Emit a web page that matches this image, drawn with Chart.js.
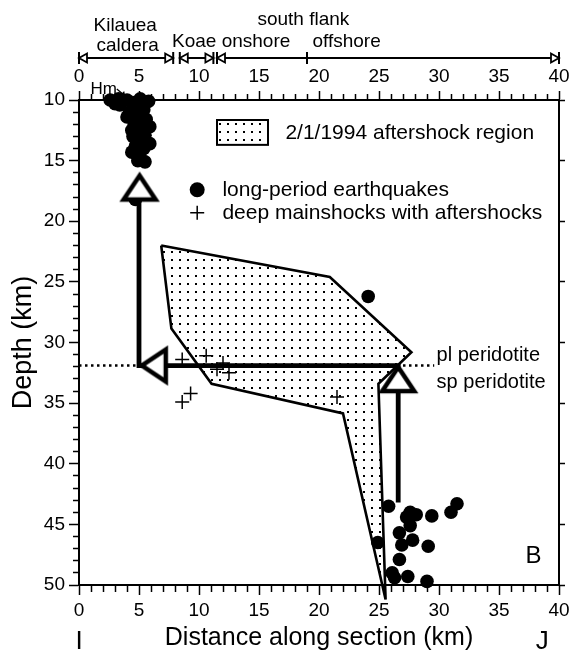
<!DOCTYPE html>
<html>
<head>
<meta charset="utf-8">
<script src="https://cdn.jsdelivr.net/npm/chart.js@4/dist/chart.umd.min.js"></script>
<style>
html,body{margin:0;padding:0;background:#fff;}
#wrap{width:580px;height:652px;}
</style>
</head>
<body>
<div id="wrap"><canvas id="c" width="580" height="652"></canvas></div>
<script>
// ---------------- data ----------------
const xMajorTicks = [0, 5, 10, 15, 20, 25, 30, 35, 40];
const depthMajorTicks = [10, 15, 20, 25, 30, 35, 40, 45, 50];

// long-period earthquakes (distance km, depth km)
const lpX = [2.6, 3.3, 4.0, 5.1, 5.8, 3.4, 4.5, 4.0, 5.4, 4.9, 5.9, 4.4, 4.8, 5.9, 5.5, 4.4, 5.1, 5.5, 4.7,
             3.0, 4.6, 5.5, 4.2, 5.0, 5.6, 4.6, 5.2, 4.5, 5.3, 4.7, 5.4, 4.9,
             24.1,
             25.8, 27.6, 27.3, 28.1, 29.4, 31.0, 31.5, 27.6, 26.7, 27.8, 26.9, 29.1, 24.9, 26.7, 26.1, 26.3, 27.4, 29.0];
const lpDepth = [10.0, 9.9, 10.0, 9.9, 10.1, 10.4, 10.7, 11.4, 10.8, 11.7, 12.2, 12.5, 13.3, 13.6, 12.9, 14.3, 14.7, 15.1, 18.2,
                 10.3, 10.2, 10.3, 11.0, 11.2, 11.6, 12.0, 12.4, 13.0, 13.3, 13.8, 14.0, 15.0,
                 26.2,
                 43.5, 44.0, 44.4, 44.2, 44.3, 44.0, 43.3, 45.1, 45.7, 46.3, 46.7, 46.8, 46.5, 47.9, 49.0, 49.4, 49.3, 49.7];

// deep mainshocks with aftershocks
const dmX = [8.6, 10.6, 11.5, 12.0, 12.5, 8.6, 9.3, 21.5];
const dmDepth = [31.4, 31.1, 32.2, 31.7, 32.5, 34.9, 34.2, 34.5];

// 2/1/1994 aftershock region outline (closed)
const polyX = [6.85, 20.9, 27.7, 24.95, 25.55, 22.0, 11.05, 7.7, 6.85];
const polyDepth = [22.0, 24.6, 30.8, 33.4, 51.2, 35.85, 33.4, 28.85, 22.0];

// arrow path (magma pathway) and arrow heads
const arrowX = [26.6, 26.6, 5.0, 5.0];
const arrowDepth = [43.2, 31.9, 31.9, 17.5];
const headX = [26.6, 4.9, 5.05];
const headDepth = [31.7, 31.9, 15.9];
const headAngle = [0, -90, 0];

// plagioclase / spinel peridotite boundary
const boundaryX = [0, 29.6];
const boundaryDepth = [31.9, 31.9];

// regions along the top
const regionSpans = [[0, 7.85], [8.4, 11.2], [11.5, 40]];
const regionDivider = [19.0];

// ---------------- styles / helpers ----------------
const FONT = '"Liberation Sans", Arial, Helvetica, sans-serif';
Chart.defaults.font.family = FONT;
Chart.defaults.color = '#000';

const canvas = document.getElementById('c');
const mainCtx = canvas.getContext('2d');

function makeDots() {
  const c = document.createElement('canvas');
  c.width = 8; c.height = 8;
  const g = c.getContext('2d');
  g.fillStyle = '#000';
  g.fillRect(3, 3, 2, 2);
  return mainCtx.createPattern(c, 'repeat');
}
const dotPattern = makeDots();

function makeArrowHead() {
  const h = 24, w = 32, lw = 4.5, size = 72;
  const c = document.createElement('canvas');
  c.width = size; c.height = size;
  const g = c.getContext('2d');
  const cx = size / 2, tip = size / 2 + 4;
  g.beginPath();
  g.moveTo(cx, tip);
  g.lineTo(cx + w / 2, tip + h);
  g.lineTo(cx - w / 2, tip + h);
  g.closePath();
  g.fillStyle = '#fff';
  g.fill();
  g.lineWidth = lw;
  g.lineJoin = 'miter';
  g.strokeStyle = '#000';
  g.stroke();
  return c;
}
const arrowHead = makeArrowHead();

const pts = (xs, ys) => xs.map((v, i) => ({x: v, y: ys[i]}));
const isMajor = v => Math.abs(v % 5) < 1e-9;
function tickDash(len, minor, outerFirst) {
  return (c) => {
    const v = c.tick ? c.tick.value : 0;
    if (isMajor(v)) return [];
    return outerFirst ? [0, len - 1 - minor, minor, 200] : [minor, 200];
  };
}

// ---------------- annotation plugin ----------------
const annotations = {
  id: 'annotations',
  afterDraw(chart) {
    const {ctx, chartArea: ca, scales} = chart;
    const X = v => scales.x.getPixelForValue(v);
    const Y = v => scales.y.getPixelForValue(v);
    ctx.save();
    ctx.fillStyle = '#000';
    ctx.strokeStyle = '#000';

    // region bar above the plot
    const barY = ca.top - 42;
    const tri = (xt, dir) => {
      ctx.beginPath();
      ctx.moveTo(xt, barY);
      ctx.lineTo(xt + dir * 8, barY - 4.5);
      ctx.lineTo(xt + dir * 8, barY + 4.5);
      ctx.closePath();
      ctx.fillStyle = '#fff'; ctx.fill();
      ctx.lineWidth = 1.8; ctx.stroke();
      ctx.fillStyle = '#000';
    };
    const vtick = (xx) => {
      ctx.beginPath(); ctx.moveTo(xx, barY - 6); ctx.lineTo(xx, barY + 6);
      ctx.lineWidth = 2; ctx.stroke();
    };
    regionSpans.forEach(([a, b]) => {
      const xa = X(a), xb = X(b);
      ctx.beginPath(); ctx.moveTo(xa, barY); ctx.lineTo(xb, barY);
      ctx.lineWidth = 2.2; ctx.stroke();
      vtick(xa); vtick(xb);
      tri(xa, 1); tri(xb, -1);
    });
    regionDivider.forEach(d => vtick(X(d)));

    ctx.textAlign = 'center';
    ctx.textBaseline = 'alphabetic';
    ctx.font = '19px ' + FONT;
    ctx.fillText('Kilauea', X(3.85), ca.top - 69);
    ctx.fillText('caldera', X(4.05), ca.top - 49);
    ctx.fillText('Koae', X(9.6), ca.top - 53);
    ctx.fillText('onshore', X(14.75), ca.top - 53);
    ctx.fillText('south flank', X(18.7), ca.top - 75);
    ctx.fillText('offshore', X(22.3), ca.top - 53);

    // Hm label with small arrow
    ctx.font = '17px ' + FONT;
    ctx.textAlign = 'left';
    ctx.fillText('Hm', X(0.95), ca.top - 6);
    const hx1 = X(3.15), hy1 = ca.top - 11, hx2 = X(3.85), hy2 = ca.top - 4;
    ctx.beginPath(); ctx.moveTo(hx1, hy1); ctx.lineTo(hx2, hy2); ctx.lineWidth = 1.2; ctx.stroke();
    ctx.beginPath(); ctx.moveTo(hx2, hy2); ctx.lineTo(hx2 - 5, hy2 - 1); ctx.lineTo(hx2 - 1, hy2 - 5); ctx.closePath(); ctx.fill();

    // legend
    const lx = X(11.5), ly = Y(11.65), lw = X(15.75) - X(11.5), lh = Y(13.7) - Y(11.65);
    ctx.fillStyle = dotPattern; ctx.fillRect(lx, ly, lw, lh);
    ctx.fillStyle = '#000';
    ctx.lineWidth = 2; ctx.strokeRect(lx, ly, lw, lh);
    ctx.font = '21px ' + FONT;
    ctx.textBaseline = 'middle';
    ctx.fillText('2/1/1994 aftershock region', X(17.2), Y(12.7));
    ctx.beginPath(); ctx.arc(X(9.85), Y(17.4), 7.5, 0, Math.PI * 2); ctx.fill();
    ctx.fillText('long-period earthquakes', X(11.95), Y(17.4));
    const cxp = X(9.85), cyp = Y(19.3);
    ctx.lineWidth = 1.5;
    ctx.beginPath(); ctx.moveTo(cxp - 7, cyp); ctx.lineTo(cxp + 7, cyp); ctx.moveTo(cxp, cyp - 7); ctx.lineTo(cxp, cyp + 7); ctx.stroke();
    ctx.fillText('deep mainshocks with aftershocks', X(11.95), Y(19.3));

    // peridotite labels
    ctx.textBaseline = 'alphabetic';
    ctx.font = '20px ' + FONT;
    ctx.fillText('pl peridotite', X(29.8), Y(31.5));
    ctx.fillText('sp peridotite', X(29.8), Y(33.75));

    // panel letter
    ctx.font = '24px ' + FONT;
    ctx.fillText('B', X(37.2), Y(48.2));

    // section end labels
    ctx.font = '26px ' + FONT;
    ctx.textAlign = 'center';
    ctx.fillText('I', X(0), ca.bottom + 64);
    ctx.fillText('J', X(38.6), ca.bottom + 64);
    ctx.restore();
  }
};

// ---------------- chart ----------------
new Chart(mainCtx, {
  type: 'scatter',
  data: {
    datasets: [
      {
        label: 'arrow heads',
        data: pts(headX, headDepth),
        pointStyle: arrowHead,
        pointRotation: headAngle,
        pointRadius: 12,
        showLine: false,
        order: 1,
        clip: false
      },
      {
        label: 'long-period earthquakes',
        data: pts(lpX, lpDepth),
        pointStyle: 'circle',
        pointRadius: 6.8,
        pointBackgroundColor: '#000',
        pointBorderColor: '#000',
        pointBorderWidth: 0,
        showLine: false,
        order: 2,
        clip: false
      },
      {
        label: 'deep mainshocks with aftershocks',
        data: pts(dmX, dmDepth),
        pointStyle: 'cross',
        pointRadius: 7,
        pointBorderColor: '#000',
        pointBorderWidth: 1.5,
        showLine: false,
        order: 3
      },
      {
        label: 'pathway',
        data: pts(arrowX, arrowDepth),
        showLine: true,
        borderColor: '#000',
        borderWidth: 4.8,
        borderJoinStyle: 'miter',
        borderCapStyle: 'butt',
        pointRadius: 0,
        tension: 0,
        order: 4
      },
      {
        label: 'pl/sp boundary',
        data: pts(boundaryX, boundaryDepth),
        showLine: true,
        borderColor: '#000',
        borderWidth: 2.5,
        borderDash: [2.5, 3.5],
        pointRadius: 0,
        order: 5
      },
      {
        label: '2/1/1994 aftershock region',
        data: pts(polyX, polyDepth),
        showLine: true,
        borderColor: '#000',
        borderWidth: 2.6,
        backgroundColor: dotPattern,
        fill: 'shape',
        pointRadius: 0,
        tension: 0,
        order: 6,
        clip: false
      }
    ]
  },
  options: {
    responsive: false,
    maintainAspectRatio: false,
    animation: false,
    devicePixelRatio: 1,
    events: [],
    layout: {padding: 0},
    plugins: {legend: {display: false}, tooltip: {enabled: false}},
    scales: {
      x: {
        type: 'linear', position: 'bottom', min: 0, max: 40,
        afterFit: s => { s.height = 67; },
        ticks: {stepSize: 1, autoSkip: false, maxRotation: 0, padding: 6,
                font: {size: 19, lineHeight: 1}, color: '#000',
                callback: v => xMajorTicks.includes(v) ? String(v) : ''},
        grid: {drawOnChartArea: false, drawTicks: true, tickLength: 10, tickWidth: 1.5,
               tickColor: '#000', tickBorderDash: tickDash(10, 6, false)},
        border: {display: true, width: 2, color: '#000'},
        title: {display: true, text: 'Distance along section (km)', color: '#000',
                font: {size: 25, lineHeight: 1}, padding: {top: 0, bottom: 1}}
      },
      x2: {
        type: 'linear', position: 'top', axis: 'x', min: 0, max: 40,
        afterFit: s => { s.height = 100; },
        ticks: {stepSize: 1, autoSkip: false, maxRotation: 0, padding: 5,
                font: {size: 19, lineHeight: 1}, color: '#000',
                callback: v => xMajorTicks.includes(v) ? String(v) : ''},
        grid: {drawOnChartArea: false, drawTicks: true, tickLength: 9, tickWidth: 1.5,
               tickColor: '#000', tickBorderDash: tickDash(9, 5, true)},
        border: {display: true, width: 2, color: '#000'}
      },
      y: {
        type: 'linear', position: 'left', reverse: true, min: 10, max: 50,
        afterFit: s => { s.width = 79; },
        ticks: {stepSize: 1, autoSkip: false, padding: 4,
                font: {size: 19, lineHeight: 1}, color: '#000',
                callback: v => depthMajorTicks.includes(v) ? String(v) : ''},
        grid: {drawOnChartArea: false, drawTicks: true, tickLength: 10, tickWidth: 1.5,
               tickColor: '#000', tickBorderDash: tickDash(10, 5, true)},
        border: {display: true, width: 2, color: '#000'},
        title: {display: true, text: 'Depth (km)', color: '#000',
                font: {size: 27, lineHeight: 1}, padding: {top: 10, bottom: 0}}
      },
      y2: {
        type: 'linear', position: 'right', axis: 'y', reverse: true, min: 10, max: 50,
        afterFit: s => { s.width = 21; },
        ticks: {stepSize: 5, display: false},
        grid: {drawOnChartArea: false, drawTicks: true, tickLength: 6, tickWidth: 1.5, tickColor: '#000'},
        border: {display: true, width: 2, color: '#000'}
      }
    }
  },
  plugins: [annotations]
});
</script>
</body>
</html>
